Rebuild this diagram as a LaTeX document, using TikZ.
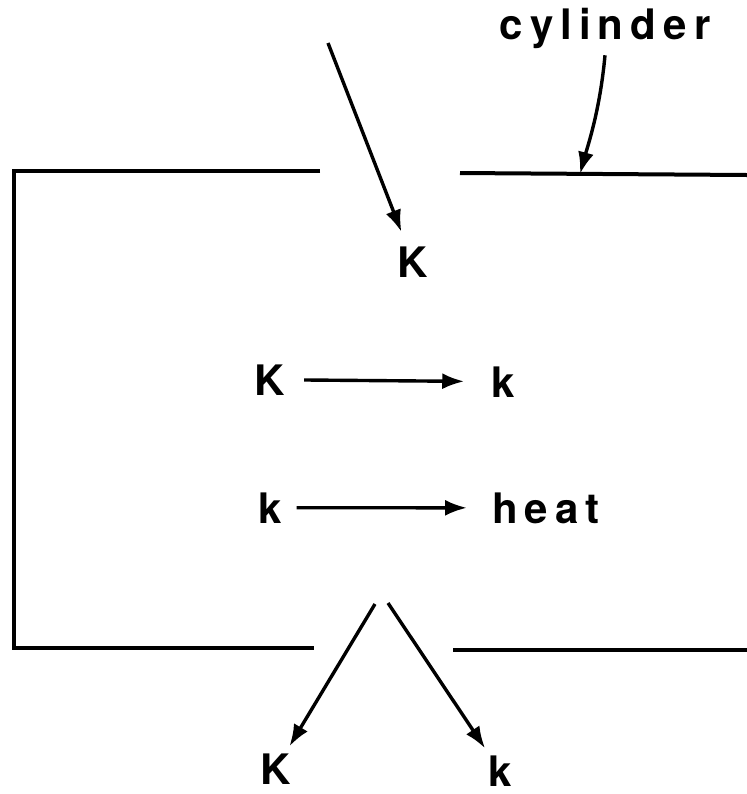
\documentclass[tikz,border=0pt]{standalone}
\usepackage{fontspec}
\setmainfont{TeX Gyre Heros}
\newfontfamily\widefont{TeX Gyre Heros}[LetterSpace=17]
\usetikzlibrary{arrows.meta}

\begin{document}
\begin{tikzpicture}[x=0.5pt, y=-0.5pt, font=\fontsize{21}{25}\selectfont\bfseries,
  wall/.style={line width=2pt},
  flow/.style={line width=1.7pt, -{Latex[length=11pt,width=8pt]}},
  lbl/.style={anchor=base}]
  \useasboundingbox (0,0) rectangle (747,794);
  % cylinder wall
  \draw[wall] (320,171) -- (14,171) -- (14,648) -- (314,648);
  \draw[wall] (460,173) -- (747,175);
  \draw[wall] (453,650) -- (747,650);
  \coordinate (wall) at (580,174);
  \coordinate (inlet) at (328,43);
  \coordinate (outL) at (375,604);
  \coordinate (outR) at (388,603);
  \node[lbl] (cyl) at (605,39) {\widefont\bfseries cylinder};
  \node[lbl] (Kin) at (413,277) {K};
  \node[lbl] (Ka) at (270,395) {K};
  \node[lbl] (ka) at (503,397) {k};
  \node[lbl] (kb) at (270,523) {k};
  \node[lbl] (heat) at (546,523) {\widefont\bfseries heat};
  \node[lbl] (Kout) at (276,784) {K};
  \node[lbl] (kout) at (500,786) {k};
  \draw[flow] (cyl.south) .. controls (600,110) and (588,145) .. (wall);
  \draw[flow, shorten >=4pt] (inlet) -- (Kin);
  \draw[flow, shorten <=6pt, shorten >=10pt] (Ka) -- (ka);
  \draw[flow, shorten <=4pt, shorten >=9pt] (kb) -- (heat);
  \draw[flow] (outL) -- (Kout);
  \draw[flow] (outR) -- (kout);
\end{tikzpicture}
\end{document}
